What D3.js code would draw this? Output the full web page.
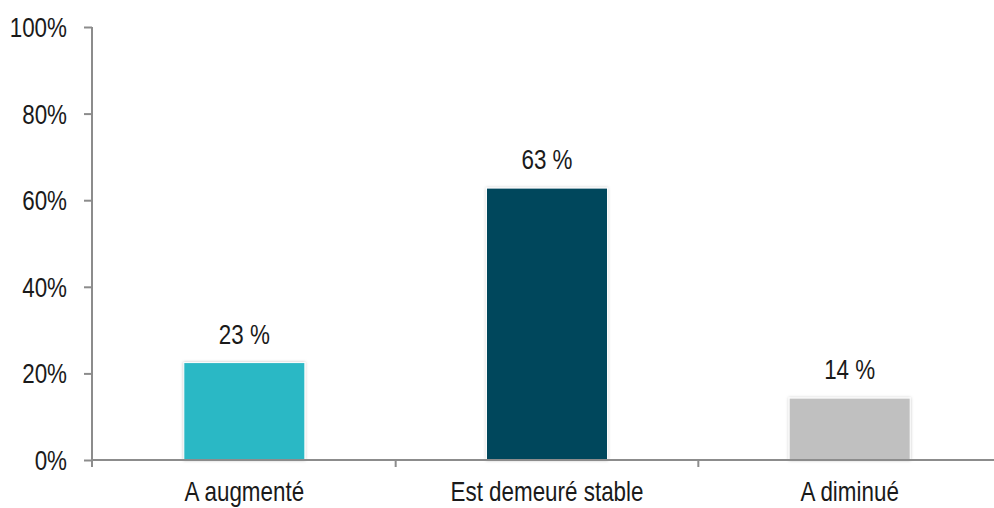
<!DOCTYPE html>
<html><head><meta charset="utf-8">
<script src="https://cdn.jsdelivr.net/npm/d3@7"></script>
<style>
html,body{margin:0;padding:0;background:#fff;}
text{font-family:"Liberation Sans",Arial,sans-serif;fill:#1a1a1a;}
</style></head>
<body>
<svg id="chart" width="994" height="508"></svg>
<script>
const categories = ["A augmenté", "Est demeuré stable", "A diminué"];
const values = [22.5, 62.8, 14.3];
const valueLabels = ["23 %", "63 %", "14 %"];
const colors = ["#2bb8c5", "#03465c", "#c0c0c0"];
const yTicks = [0, 20, 40, 60, 80, 100];

const svg = d3.select("#chart");
const x0 = 92, x1 = 1001, yTop = 27, yBot = 460;
const FS = "28px";
const x = d3.scaleBand().domain(categories).range([x0 + 1, x1]).paddingInner(0).paddingOuter(0);
const y = d3.scaleLinear().domain([0, 100]).range([yBot, yTop]);
const axisColor = "#8c8c8c";

const defs = svg.append("defs");
const f = defs.append("filter").attr("id","sh").attr("x","-10%").attr("y","-10%").attr("width","120%").attr("height","120%");
f.append("feDropShadow").attr("dx",0).attr("dy",0).attr("stdDeviation",1.5).attr("flood-color","#000").attr("flood-opacity",0.25);

function narrow(sel) {
  sel.each(function() {
    const w = this.getComputedTextLength();
    d3.select(this).attr("textLength", w * 0.8).attr("lengthAdjust", "spacingAndGlyphs");
  });
}

// y axis
const yAxis = svg.append("g").attr("transform", `translate(${x0},0)`)
  .call(d3.axisLeft(y).tickValues(yTicks).tickFormat(d => d + "%").tickSize(8).tickPadding(17));
yAxis.select(".domain").attr("stroke", axisColor).attr("stroke-width", 2).attr("d", `M0,${yTop}V${yBot}`);
yAxis.selectAll(".tick line").attr("stroke", axisColor).attr("stroke-width", 2);
yAxis.selectAll(".tick text").style("font-size", FS).attr("fill", "#1a1a1a").attr("dy", "0.34em").call(narrow);

// bars
const bw = x.bandwidth() * 0.4;
svg.append("g").selectAll("rect").data(categories).join("rect")
  .attr("x", d => x(d) + (x.bandwidth() - bw) / 2)
  .attr("y", (d, i) => y(values[i]))
  .attr("width", bw)
  .attr("height", (d, i) => yBot - y(values[i]))
  .attr("fill", (d, i) => colors[i])
  .attr("stroke", "#fff").attr("stroke-width", 1)
  .attr("filter", "url(#sh)");

// x axis
const xAxis = svg.append("g").attr("transform", `translate(0,${yBot})`)
  .call(d3.axisBottom(x).tickSize(0).tickPadding(0));
xAxis.select(".domain").attr("stroke", axisColor).attr("stroke-width", 2).attr("d", `M${x0},0H${x1}`);
xAxis.selectAll(".tick text").style("font-size", FS).attr("fill", "#1a1a1a").attr("y", 41).attr("dy", 0).call(narrow);
// boundary ticks between categories
svg.append("g").selectAll("line").data(categories.slice(1)).join("line")
  .attr("x1", d => x(d)).attr("x2", d => x(d))
  .attr("y1", yBot).attr("y2", yBot + 7)
  .attr("stroke", axisColor).attr("stroke-width", 2);
svg.append("line").attr("x1", x0).attr("x2", x0).attr("y1", yBot).attr("y2", yBot + 7)
  .attr("stroke", axisColor).attr("stroke-width", 2);

// value labels
svg.append("g").selectAll("text").data(categories).join("text")
  .attr("x", d => x(d) + x.bandwidth() / 2)
  .attr("y", (d, i) => y(values[i]) - 19)
  .attr("text-anchor", "middle")
  .style("font-size", FS)
  .text((d, i) => valueLabels[i])
  .call(narrow);
</script>
</body></html>
